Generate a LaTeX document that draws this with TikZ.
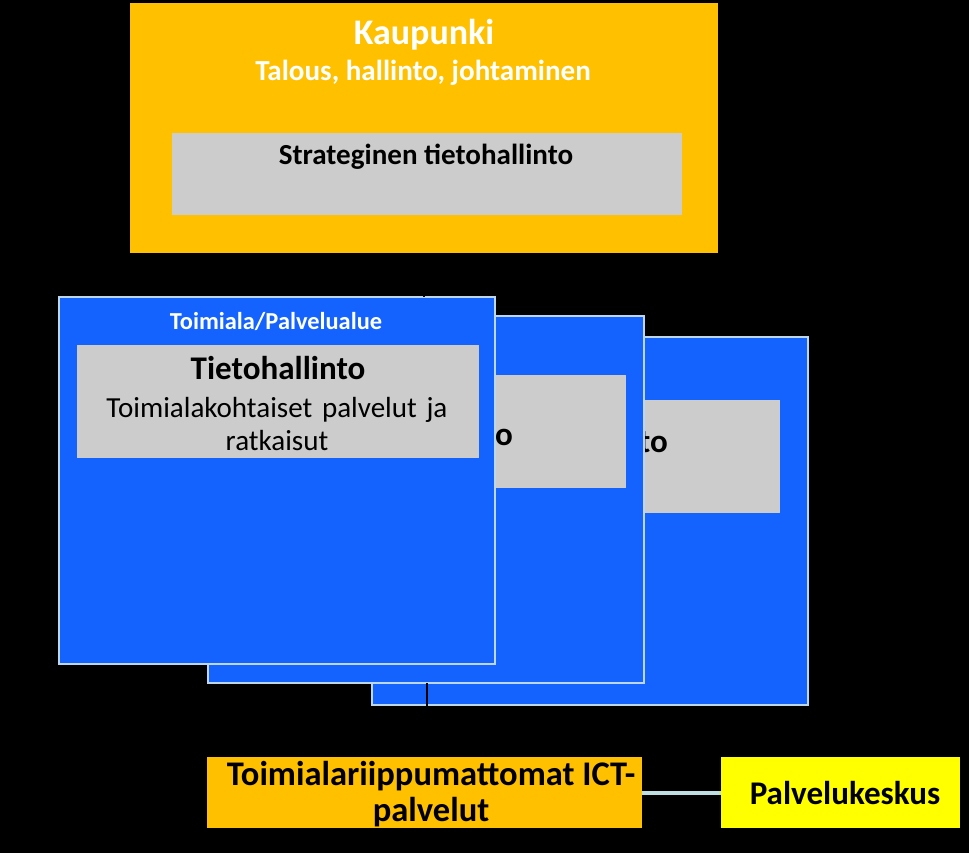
\documentclass[tikz,border=0pt]{standalone}
\usepackage{fontspec}
\setmainfont{Carlito}
\usetikzlibrary{arrows.meta}
\definecolor{korange}{RGB}{255,192,0}
\definecolor{kgrey}{RGB}{204,204,204}
\definecolor{kblue}{RGB}{21,99,255}
\definecolor{kedge}{RGB}{189,215,238}
\definecolor{kyellow}{RGB}{255,255,0}
\definecolor{klink}{RGB}{190,222,226}
\begin{document}
\begin{tikzpicture}[x=0.75pt,y=-0.75pt,
  box/.style={rectangle,anchor=north west,inner sep=0pt,outer sep=0pt},
  sz/.style 2 args={minimum width=0.75pt*#1,minimum height=0.75pt*#2},
  bluebox/.style={box,fill=kblue,draw=kedge,line width=1.3pt},
  greybox/.style={box,fill=kgrey},
  txt/.style={inner sep=0pt,align=center}]
\useasboundingbox[fill=black] (0,0) rectangle (969,853);
% top city box
\node[box,fill=korange,sz={588}{250}] (city) at (130,3) {};
\node[txt,text=white,font=\bfseries\fontsize{27}{32}\selectfont] (citytitle) at (424,35) {Kaupunki};
\node[txt,text=white,font=\bfseries\fontsize{21.8}{26}\selectfont] (citysub) at (423,73) {Talous, hallinto, johtaminen};
\node[greybox,sz={510}{82}] (strat) at (172,133) {};
\node[txt,font=\bfseries\fontsize{21.8}{26}\selectfont] (strattxt) at (426,157) {Strateginen tietohallinto};
% back box 3
\node[bluebox,sz={436}{368}] (b3) at (372,337) {};
\node[greybox,sz={390}{113}] (g3) at (390,400) {};
\node[txt,font=\bfseries\fontsize{24.8}{30}\selectfont,anchor=east] (t3) at (668,441) {Tietohallinto};
% connector start on box 2
\coordinate (c2) at (427,683);
% box 2
\node[bluebox,sz={436}{367}] (b2) at (208,316) {};
\node[greybox,sz={400}{113}] (g2) at (226,375) {};
\node[txt,font=\bfseries\fontsize{24.8}{30}\selectfont,anchor=east] (t2) at (513,434) {Tietohallinto};
% box 1
\node[bluebox,sz={436}{367}] (b1) at (59,297) {};
\node[txt,text=white,font=\bfseries\fontsize{18.3}{22}\selectfont] (b1title) at (276,321) {Toimiala/Palvelualue};
\node[greybox,sz={402}{113}] (g1) at (77,345) {};
\node[txt,font=\bfseries\fontsize{24.8}{30}\selectfont] (t1) at (278,368) {Tietohallinto};
\node[txt,font=\fontsize{21.8}{24.75}\selectfont,text width=290pt] (t1sub) at (277,424) {Toimialakohtaiset palvelut ja\\ ratkaisut};
% bottom boxes
\node[box,fill=korange,sz={435}{71}] (ict) at (207,757) {};
\node[txt,font=\bfseries\fontsize{25.9}{27}\selectfont] (icttxt) at (431,794) {Toimialariippumattomat ICT-\\ palvelut};
\node[box,fill=kyellow,sz={239}{71}] (pk) at (721,757) {};
\node[txt,font=\bfseries\fontsize{24.8}{30}\selectfont] (pktxt) at (845,793) {Palvelukeskus};
% connectors
\draw[black,line width=1.5pt] (city.south) -- (b1.north -| city.south);
\draw[black,line width=1.5pt,-{Latex[length=5pt,width=5pt]}] (c2) -- (c2 |- ict.north);
\draw[klink,line width=3pt] (ict.east) -- (pk.west);
\end{tikzpicture}
\end{document}
